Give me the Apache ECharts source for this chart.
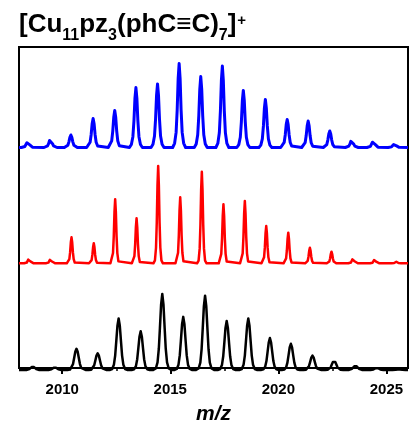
<!DOCTYPE html>
<html>
<head>
<meta charset="utf-8">
<script src="https://cdn.jsdelivr.net/npm/echarts@6/dist/echarts.min.js"></script>
<style>
  html, body { margin: 0; padding: 0; background: #fff; }
  #chart { width: 409px; height: 430px; }
</style>
</head>
<body>
<div id="chart"></div>
<script>
// Axis ticks (m/z)
const mzTicks = [2010, 2015, 2020, 2025];
const mzMinorTicks = [2012.5, 2017.5, 2022.5];

// Measured spectrum (blue): isotope peak centres and relative intensities (%)
const blueMz = [2008.41, 2009.46, 2010.40, 2011.43, 2012.43, 2013.41, 2014.41, 2015.41, 2016.41,
                2017.41, 2018.38, 2019.40, 2020.41, 2021.38, 2022.38, 2023.40, 2024.40, 2025.38];
const blueInt = [6.9, 10.1, 14.9, 34.5, 44.0, 71.4, 75.6, 100, 84.5,
                 97.0, 67.9, 57.1, 33.3, 31.5, 19.6, 8.9, 7.7, 4.2];

// Simulated pattern, narrow line shape (red)
const redMz = [2008.46, 2009.46, 2010.43, 2011.46, 2012.45, 2013.44, 2014.44, 2015.46, 2016.46,
               2017.46, 2018.45, 2019.44, 2020.46, 2021.46, 2022.46, 2023.46, 2024.46, 2025.46];
const redInt = [4.7, 4.4, 26.7, 20.6, 65.8, 46.2, 100, 67.8, 94.1,
                60.6, 64.0, 38.3, 31.4, 16.0, 11.9, 5.1, 4.1, 1.6];

// Simulated pattern, broadened line shape (black)
const blackMz = [2008.64, 2009.66, 2010.66, 2011.64, 2012.61, 2013.63, 2014.63, 2015.60, 2016.61,
                 2017.61, 2018.61, 2019.61, 2020.58, 2021.58, 2022.58, 2023.57, 2024.56, 2025.58];
const blackInt = [4.4, 3.5, 27.9, 22.0, 67.7, 50.9, 100, 69.9, 97.7,
                  64.5, 67.7, 42.0, 34.5, 19.0, 12.4, 5.7, 2.7, 0.8];

// Peak line shapes: offset from centre (m/z) and fraction of peak height
const blueShapeOffset = [-0.3, -0.21, -0.14, -0.09, -0.045, 0, 0.045, 0.09, 0.14, 0.21, 0.3];
const blueShapeLevel  = [0, 0.05, 0.18, 0.45, 0.82, 1, 0.82, 0.45, 0.18, 0.05, 0];
const redShapeOffset  = [-0.22, -0.15, -0.1, -0.065, -0.032, 0, 0.032, 0.065, 0.1, 0.15, 0.22];
const redShapeLevel   = [0, 0.03, 0.16, 0.42, 0.8, 1, 0.8, 0.42, 0.16, 0.03, 0];
const blackShapeOffset = [-0.42, -0.3, -0.22, -0.16, -0.11, -0.055, 0, 0.055, 0.11, 0.16, 0.22, 0.3, 0.42];
const blackShapeLevel  = [0, 0.02, 0.1, 0.28, 0.55, 0.86, 1, 0.86, 0.55, 0.28, 0.1, 0.02, 0];

const MZ_MIN = 2008, MZ_MAX = 2026;

function profile(centres, heights, offsets, levels) {
  const pts = [[MZ_MIN, 0]];
  centres.forEach((c, i) => {
    offsets.forEach((o, j) => pts.push([c + o, heights[i] * levels[j]]));
  });
  pts.push([MZ_MAX, 0]);
  return pts;
}

const FONT = '"Liberation Sans", Arial, Helvetica, sans-serif';
const L = 19, R = 1;

const chart = echarts.init(document.getElementById('chart'), null, { renderer: 'canvas' });

const hiddenX = (g) => ({ type: 'value', gridIndex: g, min: MZ_MIN, max: MZ_MAX, show: false });
const hiddenY = (g) => ({ type: 'value', gridIndex: g, min: 0, max: 100, show: false });

chart.setOption({
  animation: false,
  backgroundColor: '#fff',
  title: {
    text: '{m|[Cu}{s|11}{m|pz}{s|3}{m|(phC≡C)}{s|7}{m|]}{p|+}',
    left: 14,
    top: 7,
    textStyle: {
      rich: {
        m: { fontFamily: FONT, fontWeight: 'bold', fontSize: 26, lineHeight: 28, color: '#000', verticalAlign: 'top' },
        s: { fontFamily: FONT, fontWeight: 'bold', fontSize: 16, lineHeight: 16, color: '#000', verticalAlign: 'top', padding: [16, 0, 0, 0] },
        p: { fontFamily: FONT, fontWeight: 'bold', fontSize: 15, lineHeight: 15, color: '#000', verticalAlign: 'top', padding: [1, 0, 0, 1] }
      }
    }
  },
  grid: [
    { left: L, right: R, top: 47, bottom: 56, show: true, borderColor: '#000', borderWidth: 2, backgroundColor: 'transparent' },
    { left: L, right: R, top: 63.5, bottom: 282.5 },
    { left: L, right: R, top: 166, bottom: 166.7 },
    { left: L, right: R, top: 294, bottom: 60 }
  ],
  xAxis: [
    {
      type: 'value', gridIndex: 0, min: MZ_MIN, max: MZ_MAX, position: 'bottom',
      axisLine: { show: true, lineStyle: { color: '#000', width: 2 } },
      axisTick: { show: true, inside: false, length: 6, lineStyle: { color: '#000', width: 2 }, customValues: mzTicks },
      axisLabel: {
        show: true, customValues: mzTicks, margin: 14, color: '#000',
        fontFamily: FONT, fontWeight: 'bold', fontSize: 15,
        formatter: (v) => String(v)
      },
      splitLine: { show: false },
      name: 'm/z', nameLocation: 'middle', nameGap: 36,
      nameTextStyle: { color: '#000', fontFamily: FONT, fontWeight: 'bold', fontStyle: 'italic', fontSize: 21 }
    },
    {
      type: 'value', gridIndex: 0, min: MZ_MIN, max: MZ_MAX, position: 'bottom', offset: 0,
      axisLine: { show: false },
      axisTick: { show: true, inside: false, length: 3, lineStyle: { color: '#000', width: 1.5 }, customValues: mzMinorTicks },
      axisLabel: { show: false },
      splitLine: { show: false }
    },
    hiddenX(1), hiddenX(2), hiddenX(3)
  ],
  yAxis: [
    { type: 'value', gridIndex: 0, min: 0, max: 1, show: false },
    hiddenY(1), hiddenY(2), hiddenY(3)
  ],
  series: [
    {
      type: 'line', xAxisIndex: 2, yAxisIndex: 1, clip: false, showSymbol: false, symbol: 'none',
      data: profile(blueMz, blueInt, blueShapeOffset, blueShapeLevel),
      lineStyle: { color: '#0000ff', width: 3, join: 'round' }
    },
    {
      type: 'line', xAxisIndex: 3, yAxisIndex: 2, clip: false, showSymbol: false, symbol: 'none',
      data: profile(redMz, redInt, redShapeOffset, redShapeLevel),
      lineStyle: { color: '#ff0000', width: 2.5, join: 'round' }
    },
    {
      type: 'line', xAxisIndex: 4, yAxisIndex: 3, clip: false, showSymbol: false, symbol: 'none',
      data: profile(blackMz, blackInt, blackShapeOffset, blackShapeLevel),
      lineStyle: { color: '#000', width: 2.5, join: 'round' }
    }
  ]
});
</script>
</body>
</html>
